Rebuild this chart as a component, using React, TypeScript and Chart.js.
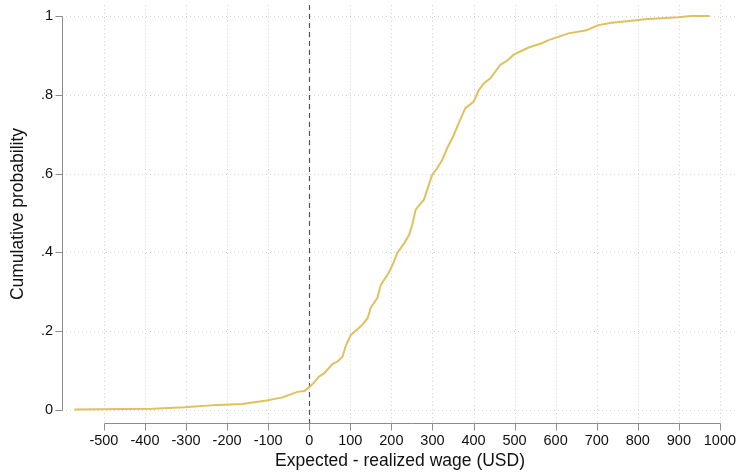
import React, { useEffect, useRef } from "react";
import { Chart, registerables } from "chart.js";

Chart.register(...registerables);

// Expected - realized wage (USD)
const wageGap: number[] = [
  -572, -381, -303, -223, -163, -104, -65, -29, -12, 0, 12, 24, 36, 57, 69, 81, 89,
  101, 129, 142, 150, 166, 174, 194, 206, 214, 231, 243, 251, 259, 271, 279, 287,
  299, 311, 324, 336, 352, 364, 380, 400, 413, 425, 441, 465, 481, 498, 534, 566,
  583, 631, 675, 704, 736, 785, 817, 898, 930, 975,
];
// Cumulative probability
const cumProb: number[] = [
  0.001, 0.003, 0.007, 0.013, 0.015, 0.024, 0.032, 0.046, 0.048, 0.058, 0.07, 0.085,
  0.093, 0.117, 0.123, 0.135, 0.163, 0.19, 0.216, 0.233, 0.26, 0.285, 0.317, 0.349,
  0.376, 0.398, 0.423, 0.444, 0.47, 0.508, 0.524, 0.533, 0.558, 0.596, 0.613, 0.635,
  0.665, 0.698, 0.728, 0.766, 0.782, 0.812, 0.829, 0.842, 0.876, 0.886, 0.902, 0.92,
  0.931, 0.939, 0.956, 0.964, 0.977, 0.983, 0.988, 0.992, 0.997, 1.0, 1.0,
];
const xTicks: number[] = [-500, -400, -300, -200, -100, 0, 100, 200, 300, 400, 500, 600, 700, 800, 900, 1000];
const yTicks: number[] = [0, 0.2, 0.4, 0.6, 0.8, 1];
const yTickLabels: string[] = ["0", ".2", ".4", ".6", ".8", "1"];
const xTitle = "Expected - realized wage (USD)";
const yTitle = "Cumulative probability";

const FONT = "'Liberation Sans', Arial, Helvetica, sans-serif";

const zeroPad = (s: any) => {
  s.paddingTop = 0;
  s.paddingBottom = 0;
  s.paddingLeft = 0;
  s.paddingRight = 0;
};

const framePlugin = {
  id: "stataFrame",
  beforeDatasetsDraw(chart: any) {
    const { ctx, chartArea } = chart;
    const xs = chart.scales.x;
    const ys = chart.scales.y;
    ctx.save();
    // dotted gridlines
    ctx.strokeStyle = "#d4d4d4";
    ctx.lineWidth = 1;
    ctx.setLineDash([1, 3]);
    for (const v of yTicks) {
      const y = Math.round(ys.getPixelForValue(v)) + 0.5;
      ctx.beginPath();
      ctx.moveTo(chartArea.left, y);
      ctx.lineTo(chartArea.right, y);
      ctx.stroke();
    }
    for (const v of xTicks) {
      const x = Math.round(xs.getPixelForValue(v)) + 0.5;
      ctx.beginPath();
      ctx.moveTo(x, chartArea.top);
      ctx.lineTo(x, chartArea.bottom);
      ctx.stroke();
    }
    ctx.setLineDash([]);
    // axes
    ctx.strokeStyle = "#8c8c8c";
    ctx.lineWidth = 1;
    const ax = chartArea.left + 0.5;
    ctx.beginPath();
    ctx.moveTo(ax, Math.round(ys.getPixelForValue(1)) + 0.5);
    ctx.lineTo(ax, Math.round(ys.getPixelForValue(0)) + 0.5);
    ctx.stroke();
    for (const v of yTicks) {
      const y = Math.round(ys.getPixelForValue(v)) + 0.5;
      ctx.beginPath();
      ctx.moveTo(ax - 7, y);
      ctx.lineTo(ax, y);
      ctx.stroke();
    }
    const ay = chartArea.bottom + 0.5;
    ctx.beginPath();
    ctx.moveTo(Math.round(xs.getPixelForValue(-500)) + 0.5, ay);
    ctx.lineTo(Math.round(xs.getPixelForValue(1000)) + 0.5, ay);
    ctx.stroke();
    for (const v of xTicks) {
      const x = Math.round(xs.getPixelForValue(v)) + 0.5;
      ctx.beginPath();
      ctx.moveTo(x, ay);
      ctx.lineTo(x, ay + 7);
      ctx.stroke();
    }
    // dashed zero line
    ctx.strokeStyle = "#555555";
    ctx.lineWidth = 1.2;
    ctx.setLineDash([5, 4]);
    const zx = Math.round(xs.getPixelForValue(0)) + 0.5;
    ctx.beginPath();
    ctx.moveTo(zx, chartArea.top);
    ctx.lineTo(zx, chartArea.bottom);
    ctx.stroke();
    ctx.restore();
  },
};

export default function App() {
  const ref = useRef<HTMLCanvasElement | null>(null);
  useEffect(() => {
    document.body.style.margin = "0";
    const canvas = ref.current!;
    const chart = new Chart(canvas, {
      type: "scatter",
      data: {
        datasets: [
          {
            data: wageGap.map((v, i) => ({ x: v, y: cumProb[i] })),
            showLine: true,
            borderColor: "#dfc15e",
            borderWidth: 2,
            pointRadius: 0,
            tension: 0,
          },
        ],
      },
      options: {
        animation: false,
        responsive: false,
        devicePixelRatio: 1,
        layout: { padding: { top: 5, right: 1, left: 0, bottom: 0 } },
        plugins: { legend: { display: false }, tooltip: { enabled: false } },
        scales: {
          x: {
            type: "linear",
            min: -602,
            max: 1044,
            afterBuildTicks: (s: any) => {
              s.ticks = xTicks.map((v) => ({ value: v }));
            },
            afterFit: (s: any) => {
              s.height = 49;
              zeroPad(s);
            },
            grid: { display: false, drawTicks: false },
            border: { display: false },
            ticks: {
              autoSkip: false,
              maxRotation: 0,
              padding: 9,
              color: "#111",
              font: { family: FONT, size: 14.5 },
              callback: (v: any) => String(v),
            },
            title: {
              display: true,
              text: xTitle,
              color: "#111",
              font: { family: FONT, size: 17.5 },
              padding: { top: 8, bottom: 0 },
            },
          },
          y: {
            type: "linear",
            min: -0.033,
            max: 1.028,
            afterBuildTicks: (s: any) => {
              s.ticks = yTicks.map((v) => ({ value: v }));
            },
            afterFit: (s: any) => {
              s.width = 62;
              zeroPad(s);
            },
            grid: { display: false, drawTicks: false },
            border: { display: false },
            ticks: {
              autoSkip: false,
              padding: 9,
              color: "#111",
              font: { family: FONT, size: 14.5 },
              callback: (v: any) => {
                const i = yTicks.indexOf(v);
                return i >= 0 ? yTickLabels[i] : "";
              },
            },
            title: {
              display: true,
              text: yTitle,
              color: "#111",
              font: { family: FONT, size: 17.5 },
              padding: { top: 8, bottom: 0 },
            },
          },
        },
      },
      plugins: [framePlugin],
    });
    return () => chart.destroy();
  }, []);
  return (
    <canvas
      ref={ref}
      width={739}
      height={472}
      style={{ display: "block", width: "739px", height: "472px" }}
    />
  );
}
